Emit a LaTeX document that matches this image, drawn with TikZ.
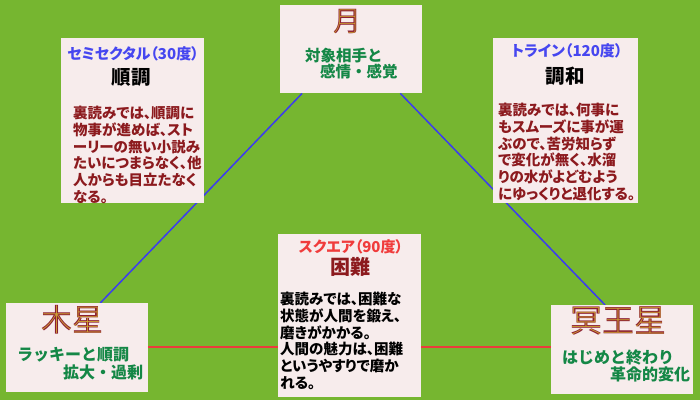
\documentclass[tikz,border=0pt]{standalone}
\usepackage{fontspec}
\setmainfont{Noto Sans CJK JP}
\newfontfamily\jpp{Noto Sans CJK JP}[RawFeature=+palt]
\newfontfamily\jpblack{Noto Sans CJK JP Black}[RawFeature=+palt]
\newfontfamily\jpthin{Noto Sans CJK JP Thin}
\newfontfamily\jpmed{Noto Sans CJK JP Medium}
\usetikzlibrary{calc}
\definecolor{bggreen}{RGB}{118,182,48}
\definecolor{boxfill}{RGB}{247,236,236}
\definecolor{titleblue}{RGB}{70,70,240}
\definecolor{titlered}{RGB}{240,60,60}
\definecolor{bodyred}{RGB}{140,26,30}
\definecolor{greentxt}{RGB}{20,135,70}
\definecolor{planetred}{RGB}{140,30,50}
\definecolor{planetgold}{RGB}{205,160,50}
\definecolor{lineblue}{RGB}{60,60,240}
\definecolor{linered}{RGB}{235,60,60}
\pgfdeclarelayer{bg}
\pgfdeclarelayer{lines}
\pgfsetlayers{bg,lines,main}
\begin{document}
\begin{tikzpicture}[x=1bp,y=-1bp,
  box/.style={draw=none,fill=boxfill,inner sep=0,anchor=north west},
  planet/.style={inner sep=0,anchor=center,text=planetred},
  planetin/.style={inner sep=0,anchor=center,text=planetgold},
  gtxt/.style={inner sep=0,anchor=west,text=greentxt,font=\fontsize{15.5bp}{16bp}\selectfont\bfseries},
  ttl/.style={inner sep=0,anchor=center,font=\jpp\fontsize{15bp}{15bp}\selectfont\bfseries},
  head/.style={inner sep=0,anchor=center,font=\fontsize{19.5bp}{19.5bp}\selectfont\bfseries},
  body/.style={inner sep=0,anchor=north west,align=left,font=\jpblack\fontsize{14.5bp}{16.7bp}\selectfont},
  blueline/.style={draw=lineblue,line width=1.5bp},
  redline/.style={draw=linered,line width=2bp}]
\begin{pgfonlayer}{bg}
\fill[bggreen] (0,0) rectangle (700,400);
\end{pgfonlayer}
\useasboundingbox (0,0) rectangle (700,400);
% boxes
\node[box,minimum width=142bp,minimum height=88bp] (moon) at (280,5) {};
\node[box,minimum width=143bp,minimum height=165bp] (semi) at (61,38) {};
\node[box,minimum width=145bp,minimum height=165bp] (trine) at (493,38) {};
\node[box,minimum width=143bp,minimum height=163bp] (square) at (278,234) {};
\node[box,minimum width=142bp,minimum height=89bp] (jupiter) at (6,303) {};
\node[box,minimum width=142bp,minimum height=89bp] (pluto) at (551,305) {};
% connectors
\begin{pgfonlayer}{lines}
\draw[blueline] ($(jupiter.north west)!0.662!(jupiter.north east)$) -- ($(moon.south west)!0.155!(moon.south east)$);
\draw[blueline] ($(moon.south west)!0.845!(moon.south east)$) -- ($(pluto.north west)!0.38!(pluto.north east)$);
\draw[redline] ([yshift=0.5bp]jupiter.east) -- ([yshift=0.5bp]jupiter.east -| pluto.west);
\end{pgfonlayer}
% moon
\node[planet,font=\jpmed\fontsize{28bp}{28bp}\selectfont] (moont) at (347,22) {月};
\node[planetin,font=\jpthin\fontsize{28bp}{28bp}\selectfont] at (moont.center) {月};
\node[gtxt] (m1) at (305,56) {対象相手と};
\node[gtxt] (m2) at (320,72) {感情・感覚};
% semi-sextile
\node[ttl,text=titleblue] (st) at (133,54) {セミセクタル（30度）};
\node[head] (sh) at (131,77) {順調};
\node[body,text=bodyred] (sb) at (73,106) {裏読みでは、順調に\\物事が進めば、スト\\ーリーの無い小説み\\たいにつまらなく、他\\人からも目立たなく\\なる。};
% trine
\node[ttl,text=titleblue] (tt) at (567,51) {トライン（120度）};
\node[head] (th) at (565,76) {調和};
\node[body,text=bodyred] (tb) at (498,103) {裏読みでは、何事に\\もスムーズに事が運\\ぶので、苦労知らず\\で変化が無く、水溜\\りの水がよどむよう\\にゆっくりと退化する。};
% square
\node[ttl,text=titlered] (qt) at (351,247) {スクエア（90度）};
\node[head,text=bodyred,font=\fontsize{20bp}{20bp}\selectfont\bfseries] (qh) at (350,267) {困難};
\node[body,text=black] (qb) at (280,292) {裏読みでは、困難な\\状態が人間を鍛え、\\磨きがかかる。\\人間の魅力は、困難\\というやすりで磨か\\れる。};
% jupiter
\node[planet,font=\jpmed\fontsize{31bp}{31bp}\selectfont] (jt) at (72,320) {木星};
\node[planetin,font=\jpthin\fontsize{31bp}{31bp}\selectfont] at (jt.center) {木星};
\node[gtxt,font=\fontsize{16bp}{16bp}\selectfont\bfseries] (j1) at (17,355) {ラッキーと順調};
\node[gtxt,font=\fontsize{16bp}{16bp}\selectfont\bfseries] (j2) at (63,372) {拡大・過剰};
% pluto
\node[planet,font=\jpmed\fontsize{32bp}{32bp}\selectfont] (pt) at (618,321) {冥王星};
\node[planetin,font=\jpthin\fontsize{32bp}{32bp}\selectfont] at (pt.center) {冥王星};
\node[gtxt,font=\fontsize{16bp}{16bp}\selectfont\bfseries] (p1) at (562,357) {はじめと終わり};
\node[gtxt,font=\fontsize{16bp}{16bp}\selectfont\bfseries] (p2) at (610,374) {革命的変化};
\end{tikzpicture}
\end{document}
